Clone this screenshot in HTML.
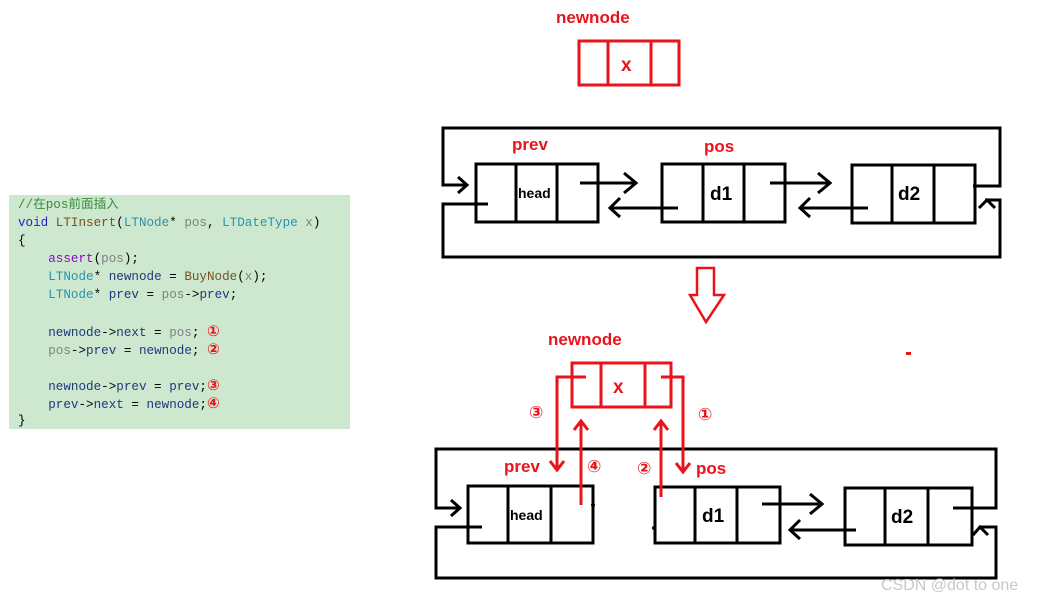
<!DOCTYPE html>
<html><head><meta charset="utf-8"><style>
body{margin:0;background:#fff;width:1045px;height:602px;overflow:hidden;position:relative}
.code{position:absolute;left:9px;top:195px;width:341px;height:234px;background:#cde8cf;font-family:"Liberation Mono","Noto Sans CJK SC",monospace;font-size:12.6px;line-height:18px;padding-top:1px;box-sizing:border-box}
.code div{height:18px;white-space:pre;padding-left:9px}
.k{color:#1f1fcc}.t{color:#2b91af}.g{color:#808080}.f{color:#74531f}.m{color:#8f08c4}.c{color:#3a8a3a}.n{color:#1f377f}
.r{color:#e8141c;font-family:"DejaVu Sans",sans-serif;font-weight:bold;font-size:15px}
</style></head><body>
<div class="code">
<div class="c">//在pos前面插入</div>
<div><span class="k">void</span> <span class="f">LTInsert</span>(<span class="t">LTNode</span>* <span class="g">pos</span>, <span class="t">LTDateType</span> <span class="g">x</span>)</div>
<div>{</div>
<div>    <span class="m">assert</span>(<span class="g">pos</span>);</div>
<div>    <span class="t">LTNode</span>* <span class="n">newnode</span> = <span class="f">BuyNode</span>(<span class="g">x</span>);</div>
<div>    <span class="t">LTNode</span>* <span class="n">prev</span> = <span class="g">pos</span>-&gt;<span class="n">prev</span>;</div>
<div> </div>
<div>    <span class="n">newnode</span>-&gt;<span class="n">next</span> = <span class="g">pos</span>; <span class="r">①</span></div>
<div>    <span class="g">pos</span>-&gt;<span class="n">prev</span> = <span class="n">newnode</span>; <span class="r">②</span></div>
<div> </div>
<div>    <span class="n">newnode</span>-&gt;<span class="n">prev</span> = <span class="n">prev</span>;<span class="r">③</span></div>
<div>    <span class="n">prev</span>-&gt;<span class="n">next</span> = <span class="n">newnode</span>;<span class="r">④</span></div>
<div>}</div>
</div>
<svg width="1045" height="602" style="position:absolute;left:0;top:0" font-family="Liberation Sans, sans-serif" font-weight="bold">
<g fill="none" stroke="#000" stroke-width="3">
<!-- top diagram -->
<rect x="476" y="164" width="122" height="58"/><line x1="516" y1="164" x2="516" y2="222"/><line x1="557" y1="164" x2="557" y2="222"/>
<rect x="662" y="164" width="123" height="58"/><line x1="703" y1="164" x2="703" y2="222"/><line x1="744" y1="164" x2="744" y2="222"/>
<rect x="852" y="165" width="123" height="58"/><line x1="892" y1="165" x2="892" y2="223"/><line x1="934" y1="165" x2="934" y2="223"/>
<polyline points="467,185 443,185 443,128 1000,128 1000,186 973,186"/>
<polyline points="488,204 443,204 443,257 1000,257 1000,200 985,200"/>
<polyline points="458,177 467,185 458,193"/><polyline points="979,208 987,200 995,208"/>
<line x1="580" y1="183" x2="636" y2="183"/><polyline points="624,173 636,183 624,193"/>
<line x1="678" y1="208" x2="610" y2="208"/><polyline points="620,198 610,208 620,217"/>
<line x1="770" y1="183" x2="830" y2="183"/><polyline points="818,173 830,183 818,193"/>
<line x1="868" y1="208" x2="800" y2="208"/><polyline points="810,198 800,208 810,217"/>
<!-- bottom diagram -->
<rect x="468" y="486" width="125" height="57"/><line x1="508" y1="486" x2="508" y2="543"/><line x1="551" y1="486" x2="551" y2="543"/>
<rect x="655" y="487" width="125" height="56"/><line x1="695" y1="487" x2="695" y2="543"/><line x1="737" y1="487" x2="737" y2="543"/>
<rect x="845" y="488" width="127" height="57"/><line x1="885" y1="488" x2="885" y2="545"/><line x1="928" y1="488" x2="928" y2="545"/>
<polyline points="460,508 436,508 436,449 996,449 996,508 953,508"/>
<polyline points="482,527 436,527 436,578 996,578 996,527 980,527"/>
<polyline points="451,500 460,508 451,516"/><polyline points="973,535 980,527 988,535"/>
<line x1="762" y1="504" x2="822" y2="504"/><polyline points="810,494 822,504 810,514"/>
<line x1="856" y1="530" x2="790" y2="530"/><polyline points="800,520 790,530 800,539"/>
</g>
<circle cx="593" cy="505" r="2" fill="#000"/><circle cx="654" cy="528" r="2" fill="#000"/>
<g fill="none" stroke="#e8141c" stroke-width="3">
<rect x="579" y="41" width="100" height="44"/><line x1="608" y1="41" x2="608" y2="85"/><line x1="651" y1="41" x2="651" y2="85"/>
<polygon points="697,268 714,268 714,295 724,295 706,322 690,295 697,295" stroke-width="2.5"/>
<rect x="572" y="363" width="99" height="44"/><line x1="601" y1="363" x2="601" y2="407"/><line x1="645" y1="363" x2="645" y2="407"/>
<polyline points="586,377 557,377 557,470"/><polyline points="550,461 557,470 564,461"/>
<polyline points="661,377 683,377 683,472"/><polyline points="676,463 683,472 690,463"/>
<line x1="581" y1="505" x2="581" y2="421"/><polyline points="574,430 581,421 588,430"/>
<line x1="661" y1="497" x2="661" y2="421"/><polyline points="654,430 661,421 668,430"/>
</g>
<rect x="906" y="352" width="5" height="3" fill="#e8141c"/>
<g fill="#e8141c" font-size="17">
<text x="556" y="23">newnode</text>
<text x="548" y="345">newnode</text>
<text x="512" y="150">prev</text>
<text x="704" y="152">pos</text>
<text x="504" y="472">prev</text>
<text x="696" y="474">pos</text>
<text x="621" y="71" font-size="19">x</text>
<text x="613" y="393" font-size="19">x</text>
</g>
<g fill="#e8141c" font-family="DejaVu Sans, sans-serif" font-size="17">
<text x="529" y="418">③</text><text x="698" y="420">①</text>
<text x="587" y="472">④</text><text x="637" y="474">②</text>
</g>
<g fill="#000">
<text x="518" y="198" font-size="14">head</text>
<text x="710" y="200" font-size="19">d1</text>
<text x="898" y="200" font-size="19">d2</text>
<text x="510" y="520" font-size="14">head</text>
<text x="702" y="522" font-size="19">d1</text>
<text x="891" y="523" font-size="19">d2</text>
</g>
<text x="881" y="590" fill="#c8c8c8" font-weight="normal" font-size="16">CSDN @dot to one</text>
</svg>
</body></html>
